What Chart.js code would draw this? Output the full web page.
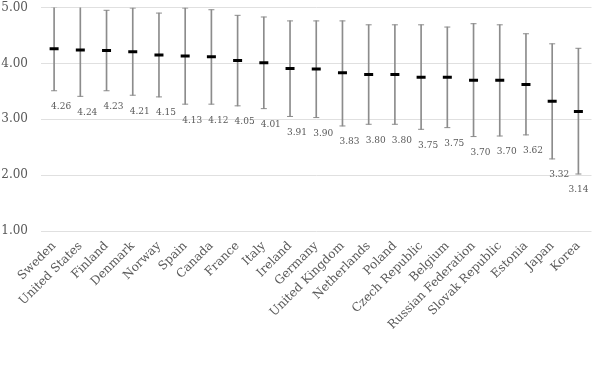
<!DOCTYPE html>
<html>
<head>
<meta charset="utf-8">
<script src="https://cdn.jsdelivr.net/npm/chart.js@4.4.0/dist/chart.umd.min.js"></script>
<style>
  html, body { margin: 0; padding: 0; background: #ffffff; }
  #wrap { width: 599px; height: 378px; }
</style>
</head>
<body>
<div id="wrap"><canvas id="c" width="599" height="378"></canvas></div>
<script>
const categories = ["Sweden", "United States", "Finland", "Denmark", "Norway", "Spain", "Canada", "France", "Italy", "Ireland", "Germany", "United Kingdom", "Netherlands", "Poland", "Czech Republic", "Belgium", "Russian Federation", "Slovak Republic", "Estonia", "Japan", "Korea"];
const means = [4.26, 4.24, 4.23, 4.21, 4.15, 4.13, 4.12, 4.05, 4.01, 3.91, 3.90, 3.83, 3.80, 3.80, 3.75, 3.75, 3.70, 3.70, 3.62, 3.32, 3.14];
const highs = [5.01, 5.07, 4.95, 4.99, 4.90, 4.99, 4.96, 4.86, 4.83, 4.76, 4.76, 4.76, 4.69, 4.69, 4.69, 4.65, 4.71, 4.69, 4.53, 4.35, 4.27];
const lows = [3.51, 3.41, 3.51, 3.43, 3.40, 3.27, 3.27, 3.24, 3.19, 3.05, 3.03, 2.88, 2.91, 2.91, 2.82, 2.85, 2.69, 2.70, 2.72, 2.29, 2.02];
const yTicks = [1, 2, 3, 4, 5];

const FONT = "'DejaVu Serif', 'Liberation Serif', serif";
const TEXT = "#595959";
const ERR = "#8c8c8c";

const labelPlugin = {
  id: 'meanLabels',
  afterDatasetsDraw(chart) {
    const ctx = chart.ctx;
    const xs = chart.scales.x, ys = chart.scales.y;
    const area = chart.chartArea;
    ctx.save();
    ctx.font = "9px " + FONT;
    ctx.fillStyle = TEXT;
    ctx.textAlign = 'center';
    ctx.textBaseline = 'middle';
    means.forEach((m, i) => {
      const txt = m.toFixed(2);
      const w = ctx.measureText(txt).width;
      let x = xs.getPixelForValue(i) + 7;
      if (x + w / 2 > area.right - 3) x = area.right - 3 - w / 2;
      const y = ys.getPixelForValue(lows[i]) + 16;
      ctx.fillText(txt, x, y);
    });
    ctx.restore();
  }
};

new Chart(document.getElementById('c'), {
  data: {
    labels: categories,
    datasets: [
      {
        type: 'line',
        label: 'mean',
        data: means,
        showLine: false,
        pointStyle: 'line',
        pointRadius: 4.5,
        pointHoverRadius: 4.5,
        pointBorderWidth: 3,
        pointBorderColor: '#000000',
        borderColor: '#000000',
        clip: 0,
        order: 0
      },
      {
        type: 'line',
        label: 'high',
        data: highs,
        showLine: false,
        pointStyle: 'line',
        pointRadius: 3,
        pointHoverRadius: 3,
        pointBorderWidth: 1,
        pointBorderColor: ERR,
        borderColor: ERR,
        clip: 0,
        order: 1
      },
      {
        type: 'line',
        label: 'low',
        data: lows,
        showLine: false,
        pointStyle: 'line',
        pointRadius: 3,
        pointHoverRadius: 3,
        pointBorderWidth: 1,
        pointBorderColor: ERR,
        borderColor: ERR,
        clip: 0,
        order: 1
      },
      {
        type: 'bar',
        label: 'range',
        data: lows.map((l, i) => [l, highs[i]]),
        backgroundColor: ERR,
        borderWidth: 0,
        barThickness: 1,
        clip: 0,
        order: 2
      }
    ]
  },
  options: {
    responsive: false,
    animation: false,
    events: [],
    layout: { padding: { top: 5, right: 4, left: 0, bottom: 0 } },
    plugins: { legend: { display: false }, tooltip: { enabled: false } },
    scales: {
      x: {
        type: 'category',
        offset: true,
        grid: { display: false, drawTicks: false },
        border: { display: false },
        ticks: {
          autoSkip: false,
          minRotation: 45,
          maxRotation: 45,
          padding: 8,
          color: TEXT,
          font: { family: FONT, size: 12 }
        },
        afterFit(scale) { scale.height = 147; scale.paddingLeft = 0; scale.paddingRight = 0; }
      },
      y: {
        min: 1,
        max: 5,
        afterBuildTicks(scale) { scale.ticks = yTicks.map(v => ({ value: v })); },
        grid: { color: '#e0e0e0', lineWidth: 1, drawTicks: false },
        border: { display: false },
        ticks: {
          padding: 13,
          color: TEXT,
          font: { family: FONT, size: 12 },
          callback: (v) => Number(v).toFixed(2)
        },
        afterFit(scale) { scale.width = 41; scale.paddingTop = 0; scale.paddingBottom = 0; }
      }
    }
  },
  plugins: [labelPlugin]
});
</script>
</body>
</html>
